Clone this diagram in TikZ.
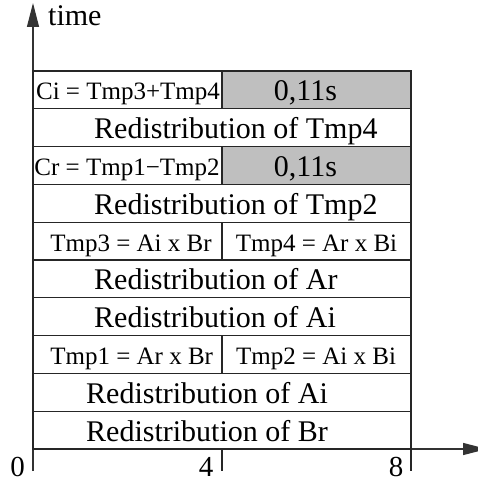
\documentclass[tikz,border=0pt]{standalone}
\usepackage{fontspec}
\setmainfont{Liberation Serif}
\usetikzlibrary{arrows.meta}
\begin{document}
\begin{tikzpicture}[x=1pt,y=-1pt,
  ln/.style={line width=1.2pt, draw=black!85},
  axis/.style={line width=1.2pt, draw=black!80, -{Triangle[length=24pt,width=12pt]}},
  big/.style={font=\fontsize{30}{36}\selectfont, inner sep=0pt, anchor=base west},
  bigc/.style={font=\fontsize{30}{36}\selectfont, inner sep=0pt, anchor=base},
  lab/.style={font=\fontsize{29}{34}\selectfont, inner sep=0pt, anchor=base, text depth=0pt},
  small/.style={font=\fontsize{25}{30}\selectfont, inner sep=0pt, anchor=base},
  shade/.style={fill=gray!50}]
\useasboundingbox (0,0) rectangle (478,481);
% shaded cells
\fill[shade] (222,71) rectangle (411,108.8);
\fill[shade] (222,146.6) rectangle (411,184.4);
% axes
\coordinate (o) at (33,471);
\coordinate (ytip) at (33,3);
\coordinate (xs) at (33,449);
\coordinate (xtip) at (487,449);
\draw[axis] (o) -- (ytip);
\draw[axis] (xs) -- (xtip);
% table
\draw[ln] (33,71) rectangle (411,449);
\foreach \y in {108.8,146.6,184.4,222.2,260,297.8,335.6,373.4,411.2}
  \draw[ln] (33,\y) -- (411,\y);
\draw[ln] (222,71) -- (222,108.8);
\draw[ln] (222,146.6) -- (222,184.4);
\draw[ln] (222,222.2) -- (222,260);
\draw[ln] (222,335.6) -- (222,373.4);
% ticks
\draw[ln] (222,449) -- (222,471);
\draw[ln] (411,449) -- (411,471);
% texts
\node[big] (time) at (48,26) {time};
\node[small] (ci) at (128,99.8) {Ci = Tmp3+Tmp4};
\node[bigc] (t1) at (305.5,100.3) {0,11s};
\node[big] (r4) at (94,138.6) {Redistribution of Tmp4};
\node[small] (cr) at (127,175.4) {Cr = Tmp1−Tmp2};
\node[bigc] (t2) at (305.5,176) {0,11s};
\node[big] (r2) at (94,214.2) {Redistribution of Tmp2};
\node[small] (tmp3) at (131,251) {Tmp3 = Ai x Br};
\node[small] (tmp4) at (316.5,251) {Tmp4 = Ar x Bi};
\node[big] (rar) at (94,289.8) {Redistribution of Ar};
\node[big] (rai) at (94,327.6) {Redistribution of Ai};
\node[small] (tmp1) at (131.7,364.4) {Tmp1 = Ar x Br};
\node[small] (tmp2) at (316,364.4) {Tmp2 = Ai x Bi};
\node[big] (rai2) at (86,403.2) {Redistribution of Ai};
\node[big] (rbr) at (86,441) {Redistribution of Br};
\node[lab] (l0) at (17.5,476) {0};
\node[lab] (l4) at (206,476) {4};
\node[lab] (l8) at (396,476) {8};
\end{tikzpicture}
\end{document}
